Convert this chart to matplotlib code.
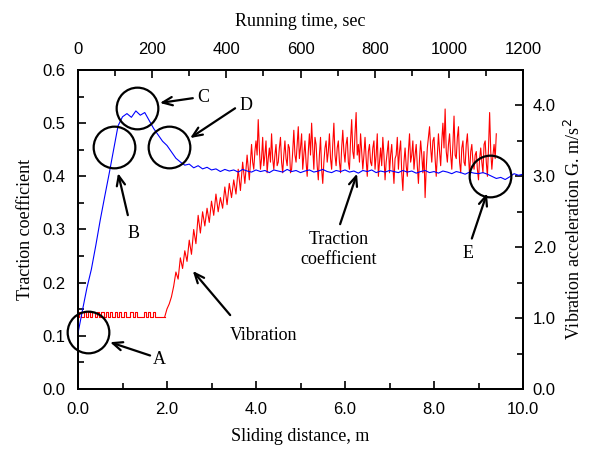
import numpy as np
import matplotlib
matplotlib.use("Agg")
import matplotlib.pyplot as plt
from matplotlib.ticker import MultipleLocator, FormatStrFormatter

# ---------------- data ----------------
trac_step = 0.1  # m between traction samples
traction = [0.105, 0.148, 0.19, 0.225, 0.27, 0.318, 0.362, 0.405, 0.45, 0.495,
            0.512, 0.518, 0.511, 0.523, 0.515, 0.52, 0.505, 0.49, 0.478, 0.466,
            0.458, 0.446, 0.434, 0.427, 0.421, 0.423, 0.416, 0.42, 0.414, 0.417,
            0.412, 0.414, 0.409, 0.413, 0.41, 0.412, 0.408, 0.413, 0.41, 0.408,
            0.412, 0.409, 0.411, 0.407, 0.412, 0.41, 0.408, 0.413, 0.409, 0.411,
            0.407, 0.41, 0.412, 0.408, 0.41, 0.413, 0.409, 0.407, 0.411, 0.409,
            0.412, 0.408, 0.41, 0.406, 0.411, 0.409, 0.412, 0.407, 0.41, 0.408,
            0.411, 0.409, 0.407, 0.411, 0.408, 0.41, 0.406, 0.409, 0.411, 0.407,
            0.409, 0.406, 0.41, 0.408, 0.405, 0.409, 0.407, 0.404, 0.408, 0.406,
            0.405, 0.407, 0.404, 0.4, 0.396, 0.398, 0.394, 0.399, 0.405, 0.402,
            0.404]

# vibration, start-up part (0.00 - 3.85 m, every 0.05 m)
vib_step = 0.05
vib_flat = [1.02, 1.09, 1.02, 1.09, 1.02, 1.09, 1.02, 1.09, 1.02, 1.09,
            1.02, 1.09, 1.02, 1.09, 1.02, 1.09, 1.02, 1.09, 1.02, 1.09,
            1.02, 1.09, 1.02, 1.02, 1.09, 1.02, 1.09, 1.02, 1.02, 1.02,
            1.09, 1.02, 1.09, 1.02, 1.09, 1.02, 1.02, 1.02, 1.02, 1.02]
vib_ramp = [1.13, 1.2, 1.3, 1.45, 1.65, 1.55, 1.85, 1.7, 1.95, 1.8,
            2.1, 1.9, 2.25, 2.05, 2.45, 2.2, 2.5, 2.3, 2.55, 2.35,
            2.65, 2.45, 2.75, 2.5, 2.7, 2.55, 2.85, 2.6, 2.9, 2.7,
            2.95, 2.75, 3.1, 2.8, 3.2, 2.9, 3.3, 2.95]
# vibration, steady part (from 3.90 m, every 0.025 m)
steady_start = 3.90
steady_step = 0.025
vib_steady = [3.45, 3.2, 3.1, 3.35, 3.5, 3.3, 3.8, 3.4, 3.1, 3.25, 3.55, 3.15, 3.3, 3.5, 3.05, 3.25, 3.4, 3.2, 3.6, 3.25,
              3.1, 3.3, 3.45, 3.15, 3.2, 3.4, 3.55, 3.2, 3.05, 3.3, 3.5, 3.25, 3.15, 3.45, 3.4, 3.05, 3.1, 3.35, 3.65, 3.3,
              3.2, 3.45, 3.7, 3.25, 3.4, 3.6, 3.1, 3.3, 3.5, 3.2, 3.0, 3.35, 3.6, 3.3, 3.75, 3.4, 3.1, 3.55, 3.45, 3.15,
              2.95, 3.3, 3.55, 3.1, 2.9, 3.2, 3.4, 3.5, 3.2, 3.35, 3.6, 3.25, 3.1, 3.45, 3.75, 3.3, 3.15, 3.4, 3.5, 3.2,
              3.05, 3.4, 3.65, 3.35, 3.2, 3.45, 3.55, 3.2, 3.1, 3.5, 3.8, 3.35, 3.25, 3.6, 3.9, 3.3, 3.45, 3.2, 3.6, 3.35,
              3.1, 3.3, 3.55, 3.25, 3.0, 3.35, 3.45, 3.2, 3.15, 3.4, 3.5, 3.1, 3.3, 3.6, 3.0, 3.2, 3.4, 3.15, 3.55, 3.3,
              2.95, 3.2, 3.35, 3.5, 3.05, 3.3, 3.45, 3.15, 2.9, 3.25, 3.3, 3.55, 3.1, 3.35, 3.5, 3.05, 2.8, 3.2, 3.4, 3.15,
              3.0, 3.35, 3.6, 3.2, 3.3, 3.5, 3.1, 3.3, 3.45, 3.15, 2.9, 3.25, 3.5, 3.3, 3.05, 3.35, 2.7, 3.1, 3.4, 3.55,
              3.7, 3.4, 3.2, 3.5, 3.55, 3.25, 3.0, 3.3, 3.6, 3.35, 3.15, 3.5, 3.75, 3.4, 3.95, 3.35, 3.2, 3.45, 3.6, 3.3,
              3.1, 3.45, 3.85, 3.3, 3.25, 3.55, 3.7, 3.2, 3.05, 3.4, 3.5, 3.2, 3.15, 3.45, 3.6, 3.3, 3.0, 3.35, 3.45, 3.2,
              3.1, 3.3, 3.35, 3.1, 2.95, 3.25, 3.4, 3.2, 3.05, 3.45, 3.5, 3.2, 3.0, 3.4, 3.9, 3.35, 3.1, 3.3, 3.45, 3.25,
              3.6]

# annotation circles (centre in sliding distance m, traction coefficient)
circle_labels = ["A", "B", "C", "D", "E"]
circle_x = [0.22, 0.81, 1.33, 2.04, 9.26]
circle_y = [0.107, 0.455, 0.528, 0.455, 0.40]

# arrow annotations: text, text position, arrow tail, arrow head
ann_text = ["A", "B", "C", "D", "E", "Vibration", "Traction\ncoefficient"]
ann_text_xy = [(1.82, 0.055), (1.24, 0.293), (2.82, 0.549), (3.77, 0.534),
               (8.76, 0.255), (4.16, 0.100), (5.85, 0.262)]
ann_tail_xy = [(1.62, 0.063), (1.12, 0.327), (2.58, 0.547), (3.53, 0.528),
               (8.85, 0.283), (3.42, 0.139), (5.89, 0.310)]
ann_head_xy = [(0.72, 0.088), (0.90, 0.406), (1.84, 0.538), (2.52, 0.472),
               (9.19, 0.368), (2.58, 0.222), (6.27, 0.405)]

# ---------------- figure ----------------
serif = ["Liberation Serif", "DejaVu Serif"]
sans = ["Liberation Sans", "DejaVu Sans"]
plt.rcParams["font.family"] = sans

fig = plt.figure(figsize=(5.9, 4.5), dpi=100)
ax = fig.add_axes([78 / 590, 61 / 450, 445 / 590, 319 / 450])
ax2 = ax.twinx()
ax3 = ax.twiny()
ax.set_zorder(ax2.get_zorder() + 2)
ax3.set_zorder(ax2.get_zorder() + 1)
ax.patch.set_visible(False)
ax3.patch.set_visible(False)

flat = np.array(vib_flat)
flat_x = vib_step * np.arange(len(flat))
ramp = np.array(vib_ramp)
ramp_x = flat_x[-1] + vib_step * (1 + np.arange(len(ramp)))
steady = np.array(vib_steady)
steady_x = steady_start + steady_step * np.arange(len(steady))
trac = np.array(traction)
trac_x = trac_step * np.arange(len(trac))

ax2.plot(flat_x, flat, color="#ff0000", lw=0.8, drawstyle="steps-mid")
ax2.plot(np.r_[flat_x[-1], ramp_x, steady_x], np.r_[flat[-1], ramp, steady],
         color="#ff0000", lw=0.8)
ax.plot(trac_x, trac, color="#0000ff", lw=0.8)

ax.set_xlim(0, 10)
ax.set_ylim(0, 0.6)
ax2.set_ylim(0, 4.5)
ax3.set_xlim(0, 1200)

ax.plot(circle_x, circle_y, linestyle="none", marker="o", markersize=30,
        markerfacecolor="none", markeredgecolor="black", markeredgewidth=1.6,
        clip_on=False, zorder=5)

for t, txy, tail, head in zip(ann_text, ann_text_xy, ann_tail_xy, ann_head_xy):
    ax.text(txy[0], txy[1], t, ha="center", va="center", fontsize=13,
            family=serif, linespacing=1.25)
    ax.annotate("", xy=head, xytext=tail,
                arrowprops=dict(arrowstyle="->,head_length=0.7,head_width=0.3",
                                lw=1.6, color="black", shrinkA=0, shrinkB=0))

# ticks
for a in (ax, ax2, ax3):
    for s in a.spines.values():
        s.set_linewidth(1.2)
ax.xaxis.set_major_locator(MultipleLocator(2))
ax.xaxis.set_minor_locator(MultipleLocator(1))
ax.yaxis.set_major_locator(MultipleLocator(0.1))
ax.yaxis.set_minor_locator(MultipleLocator(0.05))
ax.xaxis.set_major_formatter(FormatStrFormatter("%.1f"))
ax.yaxis.set_major_formatter(FormatStrFormatter("%.1f"))
ax2.yaxis.set_major_locator(MultipleLocator(1.0))
ax2.yaxis.set_minor_locator(MultipleLocator(0.5))
ax2.yaxis.set_major_formatter(FormatStrFormatter("%.1f"))
ax3.xaxis.set_major_locator(MultipleLocator(200))
ax3.xaxis.set_minor_locator(MultipleLocator(100))

ax.tick_params(which="both", direction="in", top=False, right=False, width=1.2)
ax.tick_params(which="major", length=6, labelsize=12, pad=9)
ax.tick_params(which="minor", length=4)
ax2.tick_params(which="both", direction="in", width=1.2)
ax2.tick_params(which="major", length=6, labelsize=12, pad=7)
ax2.tick_params(which="minor", length=4)
ax3.tick_params(which="both", direction="in", width=1.2)
ax3.tick_params(which="major", length=6, labelsize=12, pad=9)
ax3.tick_params(which="minor", length=4)

ax.set_xlabel("Sliding distance, m", family=serif, fontsize=13, labelpad=8)
ax.set_ylabel("Traction coefficient", family=serif, fontsize=13, labelpad=6)
ax2.set_ylabel("Vibration acceleration G. m/s$^2$", family=serif, fontsize=13,
               labelpad=6)
ax3.set_xlabel("Running time, sec", family=serif, fontsize=13, labelpad=12)

fig.savefig("out.png", dpi=100)
